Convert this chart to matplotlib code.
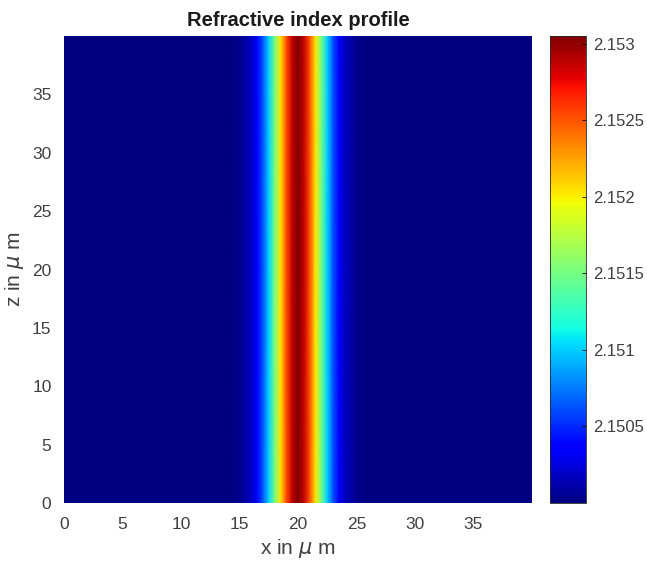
import numpy as np
import matplotlib
matplotlib.use("Agg")
import matplotlib.pyplot as plt

# Refractive index profile read across x (µm); uniform along z
x_um = [0.0, 13.0, 14.0, 15.0, 16.0, 16.5, 17.0, 17.5, 18.0, 18.5, 19.0, 19.5, 20.0,
        20.5, 21.0, 21.5, 22.0, 22.5, 23.0, 23.5, 24.0, 25.0, 26.0, 27.0, 40.0]
n_profile = [2.15000, 2.15000, 2.15001, 2.15004, 2.15019, 2.15036, 2.15063, 2.15101,
             2.15150, 2.15203, 2.15252, 2.15287, 2.15305,
             2.15287, 2.15252, 2.15203, 2.15150, 2.15101, 2.15063, 2.15036, 2.15019,
             2.15004, 2.15001, 2.15000, 2.15000]
z_um = [0.0, 40.0]

x_ticks = [0, 5, 10, 15, 20, 25, 30, 35]
z_ticks = [0, 5, 10, 15, 20, 25, 30, 35]
cbar_ticks = [2.1505, 2.151, 2.1515, 2.152, 2.1525, 2.153]
cbar_labels = ["2.1505", "2.151", "2.1515", "2.152", "2.1525", "2.153"]
vmin, vmax = 2.15, 2.15305

plt.rcParams['font.family'] = ['Liberation Sans', 'DejaVu Sans']
txt = '#404040'

fig = plt.figure(figsize=(6.47, 5.66), dpi=100)
W, H = 647, 566
ax = fig.add_axes([64 / W, 1 - 503 / H, 468 / W, 467 / H])
cax = fig.add_axes([550 / W, 1 - 503 / H, 36 / W, 467 / H])

X, Z = np.meshgrid(np.array(x_um), np.array(z_um))
N = np.tile(np.array(n_profile), (len(z_um), 1))
mesh = ax.pcolormesh(X, Z, N, cmap='jet', vmin=vmin, vmax=vmax, shading='gouraud')
ax.set_xlim(0, 40)
ax.set_ylim(0, 40)
ax.set_xticks(x_ticks)
ax.set_yticks(z_ticks)
ax.tick_params(length=0, labelsize=12.5, labelcolor=txt)
ax.tick_params(axis='x', pad=10)
ax.tick_params(axis='y', pad=9)
for s in ax.spines.values():
    s.set_visible(False)
ax.set_title('Refractive index profile', fontsize=14.5, fontweight='bold', color='#1a1a1a', pad=7)
ax.set_xlabel(r'x in $\mu$ m', fontsize=15, color=txt, labelpad=4)
ax.set_ylabel(r'z in $\mu$ m', fontsize=15, color=txt, labelpad=4)

cb = fig.colorbar(mesh, cax=cax)
cb.set_ticks(cbar_ticks)
cb.set_ticklabels(cbar_labels)
cb.ax.tick_params(direction='in', length=3, width=0.6, labelsize=12, labelcolor=txt, pad=5)
cb.outline.set_linewidth(0.6)
cb.outline.set_edgecolor('#262626')

fig.savefig('out.png', dpi=100)
